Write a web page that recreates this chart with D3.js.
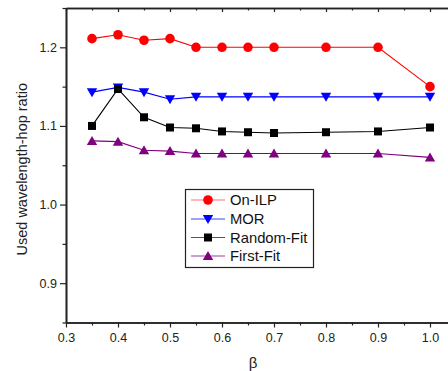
<!DOCTYPE html>
<html>
<head>
<meta charset="utf-8">
<script src="https://cdn.jsdelivr.net/npm/d3@7"></script>
<style>
  html, body { margin: 0; padding: 0; background: #fff; }
  svg { display: block; }
  text { font-family: Arial, "Liberation Sans", sans-serif; }
</style>
</head>
<body>
<svg id="chart" width="448" height="371"></svg>
<script>
// β values along the x axis
const betas = [0.35, 0.4, 0.45, 0.5, 0.55, 0.6, 0.65, 0.7, 0.8, 0.9, 1.0];

// Used wavelength-hop ratio per algorithm
const onILP     = [1.211, 1.216, 1.209, 1.211, 1.200, 1.200, 1.200, 1.200, 1.200, 1.200, 1.150];
const mor       = [1.143, 1.149, 1.143, 1.134, 1.137, 1.137, 1.137, 1.137, 1.137, 1.137, 1.137];
const randomFit = [1.100, 1.147, 1.111, 1.098, 1.097, 1.093, 1.092, 1.091, 1.092, 1.093, 1.098];
const firstFit  = [1.081, 1.080, 1.069, 1.068, 1.065, 1.065, 1.065, 1.065, 1.065, 1.065, 1.060];

const xTicks = [0.3, 0.4, 0.5, 0.6, 0.7, 0.8, 0.9, 1.0];
const xMinorTicks = [0.35, 0.45, 0.55, 0.65, 0.75, 0.85, 0.95];
const yTicks = [0.9, 1.0, 1.1, 1.2];
const yMinorTicks = [0.85, 0.95, 1.05, 1.15, 1.25];

const seriesNames = ["On-ILP", "MOR", "Random-Fit", "First-Fit"];
const seriesValues = [onILP, mor, randomFit, firstFit];
const seriesColors = ["#ff0000", "#0000ff", "#000000", "#800080"];
const legendLineColors = ["#ff7070", "#4040ff", "#555555", "#a040a0"];
const seriesSymbols = ["circle", "triangleDown", "square", "triangleUp"];

const svg = d3.select("#chart");
const pLeft = 66, pTop = 8, pBottom = 322.5, pRight = 456;

const x = d3.scaleLinear().domain([0.3, 1.05]).range([pLeft, pRight]);
const y = d3.scaleLinear().domain([0.85, 1.25]).range([pBottom, pTop]);

const axisColor = "#222";
const tickFont = 12.5;

// Bottom axis
const gx = svg.append("g").attr("transform", `translate(0,${pBottom})`)
  .call(d3.axisBottom(x).tickValues(xTicks).tickFormat(d3.format(".1f")).tickSize(5).tickSizeOuter(0));
svg.append("g").attr("transform", `translate(0,${pBottom})`)
  .call(d3.axisBottom(x).tickValues(xMinorTicks).tickFormat("").tickSize(3).tickSizeOuter(0));

// Top border with inward ticks
svg.append("g").attr("transform", `translate(0,${pTop})`)
  .call(d3.axisBottom(x).tickValues(xTicks).tickFormat("").tickSize(4).tickSizeOuter(0));
svg.append("g").attr("transform", `translate(0,${pTop})`)
  .call(d3.axisBottom(x).tickValues(xMinorTicks).tickFormat("").tickSize(2.5).tickSizeOuter(0));

// Left axis
svg.append("g").attr("transform", `translate(${pLeft},0)`)
  .call(d3.axisLeft(y).tickValues(yTicks).tickFormat(d3.format(".1f")).tickSize(6).tickSizeOuter(0));
svg.append("g").attr("transform", `translate(${pLeft},0)`)
  .call(d3.axisLeft(y).tickValues(yMinorTicks).tickFormat("").tickSize(3.5).tickSizeOuter(0));

svg.selectAll(".domain").attr("stroke", axisColor).attr("stroke-width", 1.6);
svg.selectAll(".tick line").attr("stroke", axisColor).attr("stroke-width", 1.2);
svg.selectAll(".tick text").attr("fill", "#222").attr("font-size", tickFont)
  .attr("font-family", "Arial, 'Liberation Sans', sans-serif");
gx.selectAll(".tick text").attr("dy", "0.95em").attr("y", 8);

// Axis titles
svg.append("text")
  .attr("transform", `translate(27,${(pTop + pBottom) / 2 + 4}) rotate(-90)`)
  .attr("text-anchor", "middle")
  .attr("font-size", 14.5).attr("fill", "#222")
  .text("Used wavelength-hop ratio");
svg.append("text")
  .attr("x", 253).attr("y", 368)
  .attr("text-anchor", "middle")
  .attr("font-size", 15).attr("fill", "#222")
  .attr("font-family", "'Liberation Serif', 'DejaVu Serif', serif")
  .text("β");

// Marker shapes
function symbolPath(kind, cx, cy) {
  switch (kind) {
    case "circle": {
      const r = 4.8;
      return `M${cx - r},${cy}a${r},${r} 0 1,0 ${2 * r},0a${r},${r} 0 1,0 ${-2 * r},0Z`;
    }
    case "square": {
      const h = 4;
      return `M${cx - h},${cy - h}h${2 * h}v${2 * h}h${-2 * h}Z`;
    }
    case "triangleDown": {
      const w = 5.2, hu = 4, hd = 5;
      return `M${cx - w},${cy - hu}L${cx + w},${cy - hu}L${cx},${cy + hd}Z`;
    }
    case "triangleUp": {
      const w = 5.2, hu = 5, hd = 4;
      return `M${cx - w},${cy + hd}L${cx + w},${cy + hd}L${cx},${cy - hu}Z`;
    }
  }
}

const line = d3.line().x(d => x(d[0])).y(d => y(d[1]));

seriesValues.forEach((vals, i) => {
  const pts = betas.map((b, j) => [b, vals[j]]);
  const g = svg.append("g");
  g.append("path").datum(pts)
    .attr("d", line)
    .attr("fill", "none")
    .attr("stroke", seriesColors[i])
    .attr("stroke-width", 1.1);
  g.selectAll("path.mk").data(pts).enter().append("path")
    .attr("class", "mk")
    .attr("d", d => symbolPath(seriesSymbols[i], x(d[0]), y(d[1])))
    .attr("fill", seriesColors[i]);
});

// Legend
const lg = svg.append("g");
lg.append("rect")
  .attr("x", 185.5).attr("y", 189.5).attr("width", 128).attr("height", 78)
  .attr("fill", "#fff").attr("stroke", "#222").attr("stroke-width", 1.2);
const rowY = [200, 219, 237.5, 256];
seriesNames.forEach((name, i) => {
  lg.append("line")
    .attr("x1", 191).attr("x2", 225).attr("y1", rowY[i]).attr("y2", rowY[i])
    .attr("stroke", legendLineColors[i]).attr("stroke-width", 1.1);
  lg.append("path")
    .attr("d", symbolPath(seriesSymbols[i], 208, rowY[i]))
    .attr("fill", seriesColors[i]);
  lg.append("text")
    .attr("x", 230).attr("y", rowY[i] + 5)
    .attr("font-size", 14.8).attr("fill", "#111")
    .text(name);
});
</script>
</body>
</html>
